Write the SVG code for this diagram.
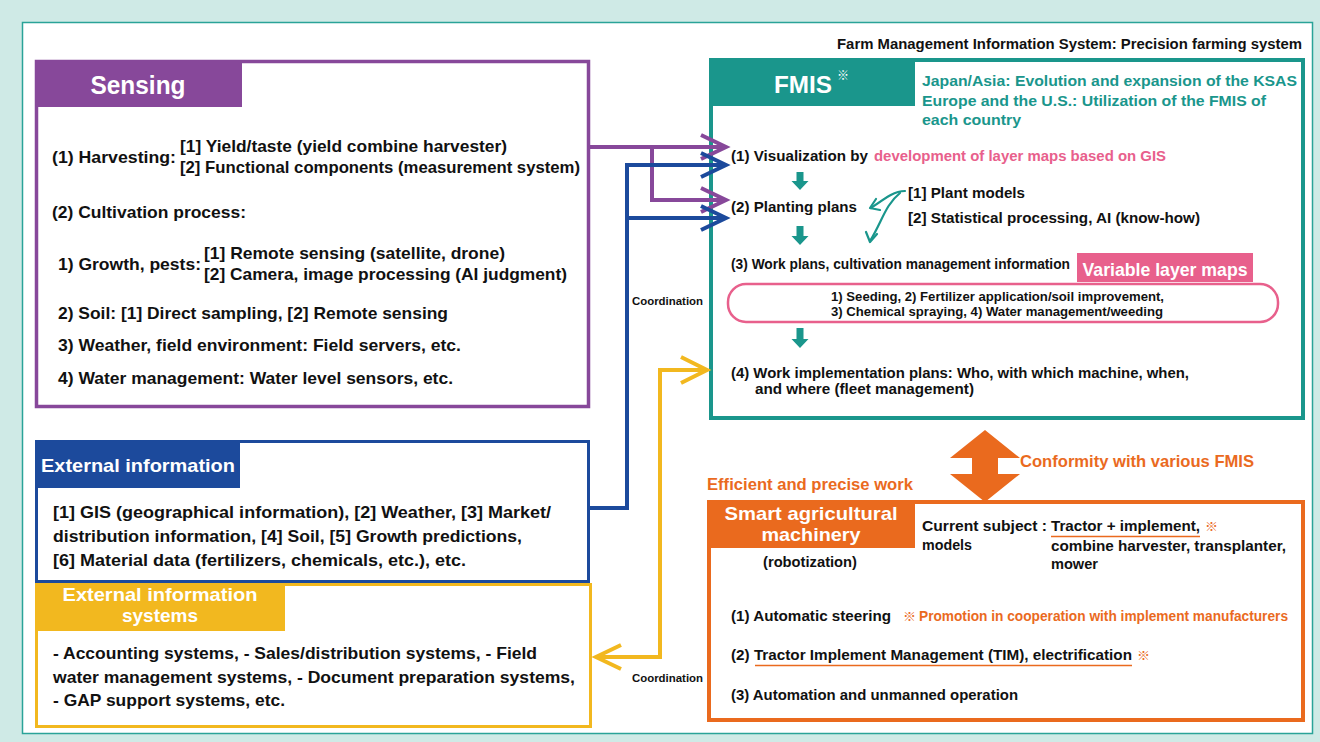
<svg xmlns="http://www.w3.org/2000/svg" width="1320" height="742" viewBox="0 0 1320 742">
<defs>
<style>
text{font-family:"Liberation Sans",Arial,"Noto Sans CJK JP",sans-serif;font-weight:bold;fill:#111}
.k{font-size:17px}
.f{font-size:15px}
.w{fill:#fff}
.teal{fill:#1a968c}
.pink{fill:#e8608c}
.or{fill:#ea6a1e}
.sym{font-family:"Noto Sans CJK JP",sans-serif;font-weight:normal}
.c{font-size:11px}
.line{fill:none;stroke-width:4;stroke-linejoin:miter}
</style>
</defs>
<rect x="0" y="0" width="1320" height="742" fill="#cfeae6"/>
<rect x="22.5" y="22.5" width="1290" height="711" fill="#fff" stroke="#2aa398" stroke-width="1.5"/>

<text x="1302" y="49" text-anchor="end" font-size="14" textLength="465" lengthAdjust="spacingAndGlyphs">Farm Management Information System: Precision farming system</text>

<g id="sensing">
<rect x="36.5" y="61.5" width="552" height="345" fill="#fff" stroke="#87489a" stroke-width="3.5"/>
<rect x="35" y="60" width="207" height="47" fill="#87489a"/>
<text class="w" x="138" y="94" font-size="26" text-anchor="middle" textLength="95" lengthAdjust="spacingAndGlyphs">Sensing</text>
<text class="k" x="52" y="163" textLength="124" lengthAdjust="spacingAndGlyphs">(1) Harvesting:</text>
<text class="k" x="180" y="152" textLength="327" lengthAdjust="spacingAndGlyphs">[1] Yield/taste (yield combine harvester)</text>
<text class="k" x="180" y="173" textLength="400" lengthAdjust="spacingAndGlyphs">[2] Functional components (measurement system)</text>
<text class="k" x="52" y="218" textLength="194" lengthAdjust="spacingAndGlyphs">(2) Cultivation process:</text>
<text class="k" x="58" y="270" textLength="143" lengthAdjust="spacingAndGlyphs">1) Growth, pests:</text>
<text class="k" x="204" y="259" textLength="301" lengthAdjust="spacingAndGlyphs">[1] Remote sensing (satellite, drone)</text>
<text class="k" x="204" y="280" textLength="363" lengthAdjust="spacingAndGlyphs">[2] Camera, image processing (AI judgment)</text>
<text class="k" x="58" y="319" textLength="390" lengthAdjust="spacingAndGlyphs">2) Soil: [1] Direct sampling, [2] Remote sensing</text>
<text class="k" x="58" y="351" textLength="403" lengthAdjust="spacingAndGlyphs">3) Weather, field environment: Field servers, etc.</text>
<text class="k" x="58" y="384" textLength="395" lengthAdjust="spacingAndGlyphs">4) Water management: Water level sensors, etc.</text>
</g>

<g id="external-information">
<rect x="36.5" y="441.5" width="552" height="140" fill="#fff" stroke="#1c4a9c" stroke-width="3"/>
<rect x="35" y="440" width="205" height="48" fill="#1c4a9c"/>
<text class="w" x="41" y="472" font-size="19" textLength="194" lengthAdjust="spacingAndGlyphs">External information</text>
<text class="k" x="53" y="518" textLength="498" lengthAdjust="spacingAndGlyphs">[1] GIS (geographical information), [2] Weather, [3] Market/</text>
<text class="k" x="53" y="542" textLength="469" lengthAdjust="spacingAndGlyphs">distribution information, [4] Soil, [5] Growth predictions,</text>
<text class="k" x="53" y="566" textLength="413" lengthAdjust="spacingAndGlyphs">[6] Material data (fertilizers, chemicals, etc.), etc.</text>
</g>

<g id="external-systems">
<rect x="36.5" y="584.5" width="554" height="142" fill="#fff" stroke="#f2b81f" stroke-width="3"/>
<rect x="35" y="583" width="250" height="48" fill="#f2b81f"/>
<text class="w" x="160" y="601" font-size="19" text-anchor="middle" textLength="195" lengthAdjust="spacingAndGlyphs">External information</text>
<text class="w" x="160" y="622" font-size="19" text-anchor="middle" textLength="76" lengthAdjust="spacingAndGlyphs">systems</text>
<text class="k" x="53" y="659" textLength="484" lengthAdjust="spacingAndGlyphs">- Accounting systems, - Sales/distribution systems, - Field</text>
<text class="k" x="53" y="683" textLength="522" lengthAdjust="spacingAndGlyphs">water management systems, - Document preparation systems,</text>
<text class="k" x="53" y="706" textLength="232" lengthAdjust="spacingAndGlyphs">- GAP support systems, etc.</text>
</g>

<g id="fmis">
<rect x="711" y="60" width="592" height="358" fill="#fff" stroke="#1a968c" stroke-width="4"/>
<rect x="709" y="58" width="206" height="48" fill="#1a968c"/>
<text class="w" x="774" y="93" font-size="24" textLength="58" lengthAdjust="spacingAndGlyphs">FMIS</text>
<text class="w sym" x="837" y="80" font-size="12">※</text>
<text class="teal" x="922" y="86" font-size="15.5" textLength="375" lengthAdjust="spacingAndGlyphs">Japan/Asia: Evolution and expansion of the KSAS</text>
<text class="teal" x="922" y="106" font-size="15.5" textLength="344" lengthAdjust="spacingAndGlyphs">Europe and the U.S.: Utilization of the FMIS of</text>
<text class="teal" x="922" y="125" font-size="15.5" textLength="99" lengthAdjust="spacingAndGlyphs">each country</text>
<text class="f" x="731" y="161" textLength="137" lengthAdjust="spacingAndGlyphs">(1) Visualization by</text>
<text class="f pink" x="874" y="161" textLength="292" lengthAdjust="spacingAndGlyphs">development of layer maps based on GIS</text>
<text class="f" x="731" y="212" textLength="126" lengthAdjust="spacingAndGlyphs">(2) Planting plans</text>
<text class="f" x="908" y="198" textLength="117" lengthAdjust="spacingAndGlyphs">[1] Plant models</text>
<text class="f" x="908" y="223" textLength="292" lengthAdjust="spacingAndGlyphs">[2] Statistical processing, AI (know-how)</text>
<text class="f" x="731" y="269" textLength="339" lengthAdjust="spacingAndGlyphs">(3) Work plans, cultivation management information</text>
<rect x="1077" y="253" width="176" height="29" fill="#e8608c"/>
<text class="w" x="1165" y="276" font-size="19" text-anchor="middle" textLength="165" lengthAdjust="spacingAndGlyphs">Variable layer maps</text>
<rect x="728" y="284" width="550" height="38" rx="18" fill="#fff" stroke="#e8608c" stroke-width="2.5"/>
<text x="831" y="301" font-size="13" textLength="333" lengthAdjust="spacingAndGlyphs">1) Seeding, 2) Fertilizer application/soil improvement,</text>
<text x="831" y="316" font-size="13" textLength="332" lengthAdjust="spacingAndGlyphs">3) Chemical spraying, 4) Water management/weeding</text>
<text class="f" x="731" y="378" textLength="458" lengthAdjust="spacingAndGlyphs">(4) Work implementation plans: Who, with which machine, when,</text>
<text class="f" x="755" y="394" textLength="219" lengthAdjust="spacingAndGlyphs">and where (fleet management)</text>
<g fill="#1a968c">
<polygon points="796.5,172 803.5,172 803.5,181 808.5,181 800,190 791.5,181 796.5,181"/>
<polygon points="796.5,226 803.5,226 803.5,236 808.5,236 800,245 791.5,236 796.5,236"/>
<polygon points="796.5,328 803.5,328 803.5,339 808.5,339 800,348 791.5,339 796.5,339"/>
</g>
<g fill="none" stroke="#1a968c" stroke-width="2.2" stroke-linecap="round" stroke-linejoin="round">
<path d="M905 191 C895 191 888 196 871 208"/>
<polyline points="876,199 870,208 880,210"/>
<path d="M900 193 C885 205 882 222 870 241"/>
<polyline points="866,232 870,242 877,234"/>
</g>
</g>

<g id="smart-machinery">
<rect x="709" y="502" width="594" height="218" fill="#fff" stroke="#ea6a1e" stroke-width="4"/>
<rect x="707" y="500" width="208" height="48" fill="#ea6a1e"/>
<text class="w" x="811" y="520" font-size="19" text-anchor="middle" textLength="173" lengthAdjust="spacingAndGlyphs">Smart agricultural</text>
<text class="w" x="811" y="541" font-size="19" text-anchor="middle" textLength="99" lengthAdjust="spacingAndGlyphs">machinery</text>
<text x="810" y="567" font-size="14" text-anchor="middle" textLength="94" lengthAdjust="spacingAndGlyphs">(robotization)</text>
<text class="f" x="922" y="531" textLength="125" lengthAdjust="spacingAndGlyphs">Current subject :</text>
<text class="f" x="922" y="550" textLength="50" lengthAdjust="spacingAndGlyphs">models</text>
<text class="f" x="1051" y="531" textLength="149" lengthAdjust="spacingAndGlyphs">Tractor + implement,</text>
<line x1="1051" y1="536.5" x2="1200" y2="536.5" stroke="#ea6a1e" stroke-width="1.5"/>
<text class="or sym" x="1205" y="531" font-size="13">※</text>
<text class="f" x="1051" y="551" textLength="235" lengthAdjust="spacingAndGlyphs">combine harvester, transplanter,</text>
<text class="f" x="1051" y="569" textLength="47" lengthAdjust="spacingAndGlyphs">mower</text>
<text class="f" x="731" y="621" textLength="160" lengthAdjust="spacingAndGlyphs">(1) Automatic steering</text>
<text class="or sym" x="903" y="621" font-size="13">※</text>
<text class="or" x="919" y="621" font-size="14" textLength="369" lengthAdjust="spacingAndGlyphs">Promotion in cooperation with implement manufacturers</text>
<text class="f" x="731" y="660" textLength="401" lengthAdjust="spacingAndGlyphs">(2) Tractor Implement Management (TIM), electrification</text>
<line x1="755" y1="665.5" x2="1132" y2="665.5" stroke="#ea6a1e" stroke-width="1.5"/>
<text class="or sym" x="1137" y="660" font-size="13">※</text>
<text class="f" x="731" y="700" textLength="287" lengthAdjust="spacingAndGlyphs">(3) Automation and unmanned operation</text>
</g>

<g id="conformity">
<polygon points="985,430 1020,458 998,458 998,474 1020,474 985,502 950,474 972,474 972,458 950,458" fill="#ea6a1e"/>
<text class="or" x="1020" y="467" font-size="17" textLength="234" lengthAdjust="spacingAndGlyphs">Conformity with various FMIS</text>
<text class="or" x="707" y="490" font-size="17" textLength="206" lengthAdjust="spacingAndGlyphs">Efficient and precise work</text>
</g>

<g id="connectors">
<g stroke="#87489a" class="line">
<polyline points="590,147 726,147"/>
<polyline points="652,147 652,200 726,200"/>
<polyline points="701,135 726,147 701,159"/>
<polyline points="701,188 726,200 701,212"/>
</g>
<g stroke="#1c4a9c" class="line">
<polyline points="590,508 627,508 627,165 726,165"/>
<polyline points="627,218 726,218"/>
<polyline points="701,153 726,165 701,177"/>
<polyline points="701,206 726,218 701,230"/>
</g>
<g stroke="#f2b81f" class="line" stroke-width="3.5">
<polyline points="707,370 660,370 660,657 596,657"/>
<polyline points="681,357 707,370 681,383"/>
<polyline points="621,645 596,657 621,669"/>
</g>
<text class="c" x="632" y="305" textLength="71" lengthAdjust="spacingAndGlyphs">Coordination</text>
<text class="c" x="632" y="682" textLength="71" lengthAdjust="spacingAndGlyphs">Coordination</text>
</g>
</svg>
